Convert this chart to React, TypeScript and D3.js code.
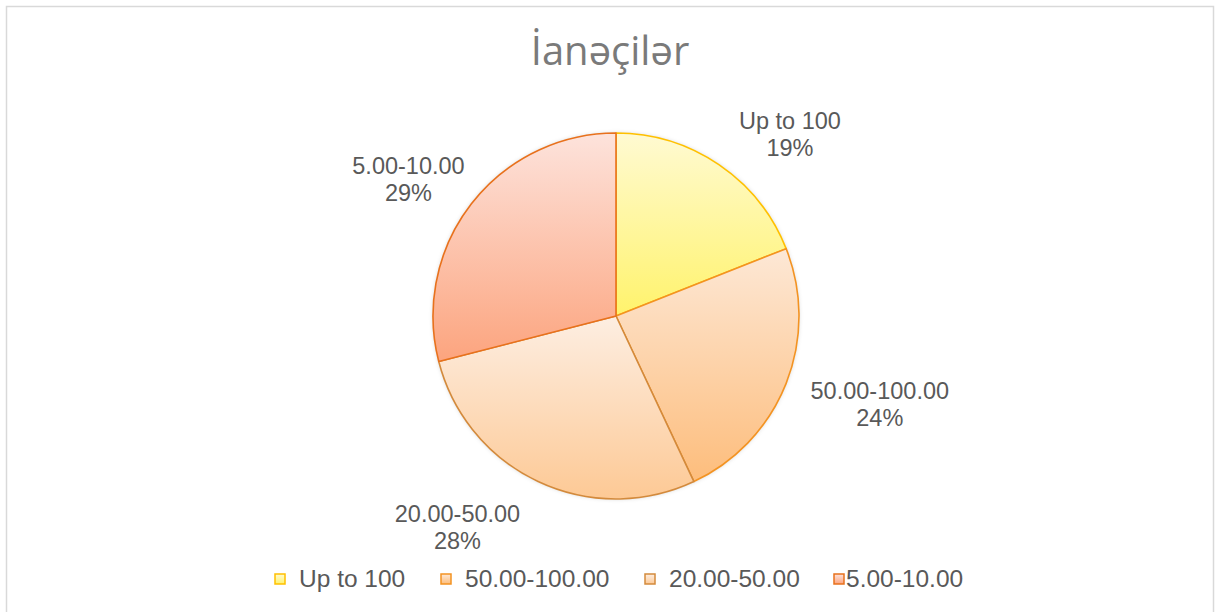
import React from "react";
import * as d3 from "d3";

const categories = ["Up to 100", "50.00-100.00", "20.00-50.00", "5.00-10.00"];
const values = [19, 24, 28, 29];
const percentLabels = ["19%", "24%", "28%", "29%"];
const title = "İanəçilər";

const gradTop = ["#fffad2", "#fde8d6", "#fdeee2", "#fde3dc"];
const gradBottom = ["#fff36c", "#fdbd7c", "#fdc995", "#fca47e"];
const strokes = ["#ffc000", "#f39322", "#d38a3c", "#e8711c"];
// label nudges relative to outer centroid (layout only)
const labelNudge: [number, number][] = [[32, 27], [29, -5], [-51, -18], [-8, 18]];

const W = 1219;
const H = 612;

export default function App() {
  const cx = 616;
  const cy = 316;
  const r = 183;
  const pie = d3.pie<number>().sort(null).value((d) => d)(values);
  const arc = d3.arc<d3.PieArcDatum<number>>().innerRadius(0).outerRadius(r);
  const labelArc = d3.arc<d3.PieArcDatum<number>>().innerRadius(r * 1.38).outerRadius(r * 1.38);
  const font = "'Liberation Sans', Arial, sans-serif";

  const legendX = [270, 436, 640, 829];
  const legendY = 579;

  return (
    <svg width={W} height={H} style={{ position: "absolute", left: 0, top: 0 }}>
      <defs>
        {values.map((_, i) => (
          <linearGradient key={i} id={`g${i}`} x1="0" y1="0" x2="0" y2="1">
            <stop offset="0" stopColor={gradTop[i]} />
            <stop offset="1" stopColor={gradBottom[i]} />
          </linearGradient>
        ))}
        <filter id="sh" x="-10%" y="-10%" width="120%" height="120%">
          <feDropShadow dx="0" dy="0" stdDeviation="2" floodColor="#000" floodOpacity="0.18" />
        </filter>
      </defs>
      <rect x={0} y={0} width={W} height={H} fill="#fff" />
      <rect x={6.5} y={6.5} width={1207} height={640} fill="#fff" stroke="#d9d9d9" strokeWidth={1.5} />
      <text x={610} y={65} textAnchor="middle" fontFamily="'Open Sans', 'Liberation Sans', sans-serif" fontSize={40} fill="#7a7a7a">
        {title}
      </text>
      <g transform={`translate(${cx},${cy})`}>
        <circle r={r} fill="#fff" filter="url(#sh)" />
        {pie.map((d, i) => (
          <path key={i} d={arc(d) || ""} fill={`url(#g${i})`} stroke={strokes[i]} strokeWidth={1.6} strokeLinejoin="round" />
        ))}
        {pie.map((d, i) => {
          const [lx, ly] = labelArc.centroid(d);
          const x = lx + labelNudge[i][0];
          const y = ly + labelNudge[i][1];
          return (
            <text key={i} textAnchor="middle" fontFamily={font} fontSize={23.5} fill="#595959">
              <tspan x={x} y={y - 5}>{categories[i]}</tspan>
              <tspan x={x} y={y + 22}>{percentLabels[i]}</tspan>
            </text>
          );
        })}
      </g>
      {categories.map((c, i) => (
        <g key={i} transform={`translate(${legendX[i]},${legendY})`}>
          <rect x={5} y={-5} width={10} height={10} fill={`url(#g${i})`} stroke={strokes[i]} strokeWidth={1.5} />
          <text x={i === 3 ? 17 : 29} y={8} fontFamily={font} fontSize={24.5} fill="#595959">{c}</text>
        </g>
      ))}
    </svg>
  );
}
